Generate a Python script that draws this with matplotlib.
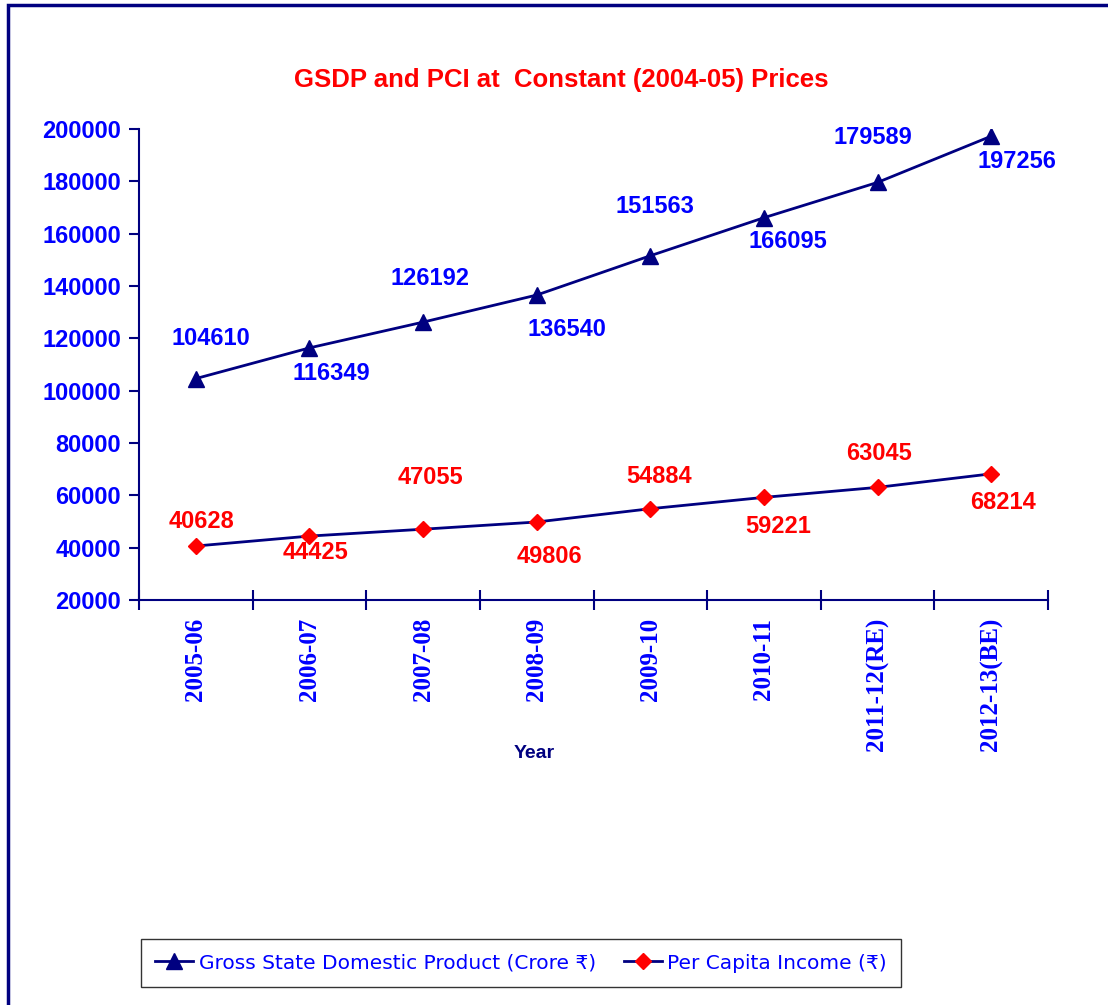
import matplotlib
matplotlib.use('Agg')
import matplotlib.pyplot as plt
from matplotlib.patches import Rectangle
import numpy as np

# 数据
years = ['2005-06', '2006-07', '2007-08', '2008-09', '2009-10', '2010-11',
         '2011-12(RE)', '2012-13(BE)']
gsdp = [104610, 116349, 126192, 136540, 151563, 166095, 179589, 197256]
pci = [40628, 44425, 47055, 49806, 54884, 59221, 63045, 68214]
y_ticks = [20000, 40000, 60000, 80000, 100000, 120000, 140000, 160000, 180000, 200000]

# 数据标签偏移（像素），与原图手动摆放的位置对应
gsdp_off = [(15, 40), (22, -26), (7, 44), (30, -34), (5, 49), (24, -24), (-5, 45), (26, -25)]
pci_off = [(6, 25), (6, -16), (7, 52), (13, -34), (9, 32), (14, -29), (1, 34), (12, -29)]

navy = '#000080'
blue = '#0000FF'
red = '#FF0000'
sans = 'Liberation Sans'
serif = 'Liberation Serif'

fig = plt.figure(figsize=(11.08, 10.05), dpi=100)
ax = fig.add_axes([139 / 1108, 1 - 600 / 1005, (1048 - 139) / 1108, 471 / 1005])

x = np.arange(len(years))
ax.plot(x, gsdp, color=navy, lw=2, marker='^', ms=11, mfc=navy, mec=navy,
        label='Gross State Domestic Product (Crore ₹)')
ax.plot(x, pci, color=navy, lw=2, marker='D', ms=8, mfc=red, mec=red,
        label='Per Capita Income (₹)')

for i, v in enumerate(gsdp):
    ax.annotate(str(v), (x[i], v), xytext=gsdp_off[i], textcoords='offset pixels',
                ha='center', va='center', color=blue, fontsize=17,
                fontweight='bold', family=sans)
for i, v in enumerate(pci):
    ax.annotate(str(v), (x[i], v), xytext=pci_off[i], textcoords='offset pixels',
                ha='center', va='center', color=red, fontsize=17,
                fontweight='bold', family=sans)

ax.set_xlim(-0.5, len(years) - 0.5)
ax.set_ylim(20000, 200000)
ax.set_yticks(y_ticks)
ax.set_yticklabels([str(t) for t in y_ticks], color=blue, fontsize=17,
                   fontweight='bold', family=sans)
ax.tick_params(axis='y', direction='out', length=7, width=1.5, color=navy, pad=6)

# x轴刻度在类别边界上，标签在类别中心
ax.set_xticks(np.arange(len(years) + 1) - 0.5)
ax.set_xticklabels([])
ax.set_xticks(x, minor=True)
ax.set_xticklabels(years, minor=True, rotation=90, color=blue, fontsize=18,
                   fontweight='bold', family=serif, va='top')
ax.tick_params(axis='x', which='major', direction='inout', length=15, width=1.5, color=navy)
ax.tick_params(axis='x', which='minor', length=0, pad=13)

for s in ['top', 'right']:
    ax.spines[s].set_visible(False)
for s in ['left', 'bottom']:
    ax.spines[s].set_color(navy)
    ax.spines[s].set_linewidth(1.5)

fig.text(561 / 1108, 1 - 80 / 1005, 'GSDP and PCI at  Constant (2004-05) Prices',
         ha='center', va='center', color=red, fontsize=18.5, fontweight='bold', family=sans)
fig.text(534 / 1108, 1 - 753 / 1005, 'Year', ha='center', va='center', color=navy,
         fontsize=14, fontweight='bold', family=sans)

leg = fig.legend(loc='center', bbox_to_anchor=(521 / 1108, 1 - 963 / 1005), ncol=2,
                 frameon=True, fancybox=False, edgecolor='black', handlelength=1.9,
                 handletextpad=0.25, columnspacing=1.4, borderpad=0.7,
                 prop={'family': ['DejaVu Sans', 'Noto Sans'], 'size': 14.5})
leg.get_frame().set_linewidth(1.0)
for t in leg.get_texts():
    t.set_color(blue)

# 外边框
fig.patches.append(Rectangle((8 / 1108, -0.5), 2, 0.5 + 1 - 5 / 1005,
                             transform=fig.transFigure, fill=False,
                             edgecolor=navy, lw=2.5))

fig.savefig('out.png', dpi=100)
